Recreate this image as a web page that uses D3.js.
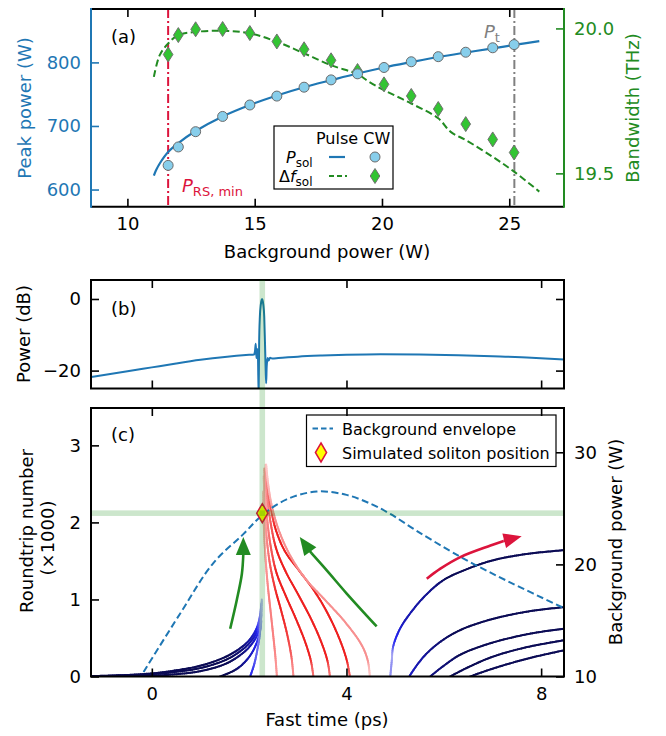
<!DOCTYPE html>
<html><head><meta charset="utf-8">
<script src="https://cdn.jsdelivr.net/npm/d3@7"></script>
<style>body{margin:0;background:#fff}svg{display:block}text{font-family:"DejaVu Sans",sans-serif}</style>
</head><body><svg id="chart" width="666" height="736"></svg>
<script>
// ---------------- DATA ----------------
// Panel (a): pulse CW measurements
const cwBackground = [11.6,12.0,12.68,13.74,14.81,15.87,16.94,18.0,19.04,20.08,21.15,22.21,23.29,24.35,25.19];
const cwPeakPower = [638,667,691,715,733,747,761,772.5,782,792,801,809,816,823,828];
const cwBandwidth = [19.910,19.977,19.997,19.998,19.984,19.955,19.928,19.890,19.853,19.807,19.767,19.722,19.670,19.617,19.572];
// Panel (a): pulse model curves
const fitBackground = [11.04,11.12,11.27,11.6,12.0,12.68,13.74,14.81,15.87,16.94,18.0,19.04,20.08,21.15,22.21,23.29,24.35,25.19,26.18];
const fitPeakPower = [622,630,641,659,673,692,715,733,748,761,772,782.5,792,800.5,808.5,815.5,822,827.5,833.5];
const bwBackground = [11.04,11.27,11.6,12.0,12.68,13.74,14.81,15.87,16.94,18.0,19.04,19.5,20.08,21.15,22.21,22.7,23.29,24.35,25.19,26.18];
const bwModel = [19.833,19.908,19.948,19.977,19.988,19.992,19.983,19.954,19.914,19.873,19.842,19.815,19.787,19.741,19.69,19.643,19.615,19.557,19.506,19.437];
const pRSmin = 11.6, pT = 25.2;
const aXTicks = [10,15,20,25], aYTicks = [600,700,800], aY2Ticks = [19.5,20.0];

// Panel (b): intracavity power profile (ps, dB)
const profileTime = [-1.25,-0.5,0,0.5,1.0,1.5,2.0,2.10,2.12,2.135,2.15,2.165,2.18,2.195,2.205,2.22,2.24,2.265,2.29,2.31,2.325,2.34,2.35,2.36,2.38,2.40,2.43,2.47,2.6,3.0,3.5,4.0,4.7,5.5,6.3,7.0,7.8,8.47];
const profilePower = [-21.8,-20.2,-19.1,-18.0,-17.0,-16.2,-15.6,-15.5,-14.6,-12.5,-16.5,-14,-15.5,-27,-12,-5,-1.5,0,-1.5,-5,-12,-20,-23.5,-19,-16.5,-17.2,-16.4,-16.6,-16.5,-16.1,-15.8,-15.6,-15.45,-15.5,-15.7,-16.0,-16.4,-16.9];
const bTicksX = [0,4,8], bTicksY = [-20,0];

// Panel (c)
const solitonTime = 2.27, solitonRT = 2.12;
const envTime = [-0.17,0.58,1.26,1.88,2.27,2.77,3.39,4.0,4.5,4.9,5.44,6.13,6.54,7.36,8.47];
const envPower = [10.4,15.6,20.1,22.7,24.4,25.8,26.5,26.2,25.4,24.5,23.0,21.2,20.2,18.4,16.1];
// trajectories: [fast time (ps), roundtrip (x1000)]
const trajLeft = [
  [[-1.25,0.005],[-0.5,0.02],[0,0.04],[0.5,0.08],[1.0,0.14],[1.5,0.25],[1.8,0.36],[2.0,0.47],[2.15,0.62],[2.22,0.78],[2.25,0.95]],
  [[-1.25,0.0],[0,0.03],[0.5,0.06],[1.0,0.11],[1.5,0.21],[1.8,0.32],[2.0,0.43],[2.15,0.57],[2.22,0.72],[2.25,0.88]],
  [[-0.3,0.0],[0.5,0.03],[1.0,0.07],[1.5,0.16],[1.8,0.27],[2.0,0.38],[2.15,0.52],[2.22,0.66],[2.25,0.8]],
  [[1.40,0.0],[1.7,0.08],[1.9,0.18],[2.05,0.3],[2.15,0.43],[2.22,0.58],[2.25,0.72]],
  [[2.02,0.0],[2.1,0.15],[2.17,0.35],[2.22,0.55],[2.25,0.8],[2.26,1.0]]
];
const trajRed = [
  [[2.57,0],[2.54,0.25],[2.50,0.5],[2.44,0.85],[2.38,1.2],[2.33,1.6],[2.30,2.0],[2.29,2.4]],
  [[2.91,0],[2.87,0.25],[2.78,0.55],[2.66,0.85],[2.53,1.15],[2.43,1.45],[2.36,1.8],[2.32,2.2],[2.30,2.6]],
  [[3.32,0],[3.27,0.2],[3.15,0.45],[2.96,0.75],[2.75,1.05],[2.56,1.35],[2.44,1.7],[2.37,2.05],[2.33,2.45],[2.31,2.7]],
  [[3.66,0],[3.61,0.2],[3.48,0.45],[3.27,0.75],[3.02,1.05],[2.76,1.35],[2.56,1.65],[2.44,2.0],[2.37,2.35],[2.33,2.7]],
  [[4.07,0],[4.01,0.2],[3.88,0.45],[3.63,0.8],[3.35,1.1],[3.02,1.38],[2.74,1.62],[2.55,1.9],[2.44,2.2],[2.37,2.5],[2.34,2.75]],
  [[4.48,0],[4.44,0.2],[4.32,0.4],[3.98,0.7],[3.55,1.0],[3.18,1.25],[2.86,1.55],[2.62,1.88],[2.47,2.2],[2.39,2.5],[2.35,2.75]]
];
const trajRight = [
  [[4.90,0],[4.93,0.2],[4.96,0.39],[5.10,0.62],[5.31,0.82],[5.62,1.05],[5.99,1.25],[6.5,1.40],[7.02,1.51],[7.7,1.59],[8.47,1.64]],
  [[5.29,0],[5.45,0.15],[5.65,0.30],[5.95,0.46],[6.33,0.60],[6.8,0.71],[7.36,0.80],[7.9,0.86],[8.47,0.90]],
  [[5.72,0],[6.0,0.14],[6.33,0.28],[6.8,0.40],[7.36,0.50],[7.9,0.57],[8.47,0.62]],
  [[6.13,0],[6.5,0.12],[7.02,0.26],[7.7,0.38],[8.47,0.47]],
  [[6.54,0],[6.9,0.08],[7.36,0.17],[7.9,0.26],[8.47,0.34]]
];
const redFade = [0,0,0,0,0,0.5];
// annotation arrows (ps, roundtrip x1000)
const arrowGreenLeft = [[1.61,0.62],[1.745,0.99],[1.85,1.33],[1.88,1.59]], tipGreenLeft = [1.88,1.81];
const arrowGreenMid = [[4.62,0.65],[4.0,1.08],[3.59,1.38],[3.28,1.60]], tipGreenMid = [3.04,1.81];
const arrowRed = [[5.65,1.27],[5.93,1.40],[6.34,1.55],[6.96,1.70],[7.23,1.76]], tipRed = [7.60,1.82];
const cTicksX = [0,4,8], cTicksY = [0,1,2,3], cTicksW = [10,20,30];

// ---------------- LAYOUT ----------------
const svg = d3.select('#chart');
const FONT = 'DejaVu Sans';
const PA = {l:91, r:564, t:9, b:206.7};
const PB = {l:91, r:564, t:280, b:388.5};
const PC = {l:91, r:564, t:408, b:676.5};
const BLUE = '#1f77b4', GREEN = '#228b22', CRIMSON = '#dc143c';

const xa = d3.scaleLinear().domain([8.57, 27.15]).range([PA.l, PA.r]);
const ya = d3.scaleLinear().domain([573, 884]).range([PA.b, PA.t]);
const ya2 = d3.scaleLinear().domain([19.385, 20.067]).range([PA.b, PA.t]);
const xt = d3.scaleLinear().domain([-1.25, 8.47]).range([PC.l, PC.r]);
const yb = d3.scaleLinear().domain([-25, 5.3]).range([PB.b, PB.t]);
const yc = d3.scaleLinear().domain([0, 3.485]).range([PC.b, PC.t]);
const yw = d3.scaleLinear().domain([10, 33.95]).range([PC.b, PC.t]);

const defs = svg.append('defs');
function clip(id, P){ defs.append('clipPath').attr('id', id).append('rect').attr('x',P.l).attr('y',P.t).attr('width',P.r-P.l).attr('height',P.b-P.t); }
clip('ca', PA); clip('cb', PB); clip('cc', PC);

function axis(gen, tr, color, labels){
  const g = svg.append('g').attr('transform', tr).call(gen);
  g.select('.domain').remove();
  g.selectAll('.tick line').attr('stroke', color).attr('stroke-width', 1.6);
  g.selectAll('.tick text').attr('fill', color).attr('font-size', 18).attr('font-family', FONT);
  if(!labels) g.selectAll('.tick text').remove();
  return g;
}
const TS = -8;

// ---------------- PANEL A ----------------
const ga = svg.append('g').attr('clip-path','url(#ca)');
ga.append('line').attr('x1',xa(pRSmin)).attr('x2',xa(pRSmin)).attr('y1',PA.t).attr('y2',PA.b)
  .attr('stroke',CRIMSON).attr('stroke-width',2).attr('stroke-dasharray','9,3,2,3');
ga.append('line').attr('x1',xa(pT)).attr('x2',xa(pT)).attr('y1',PA.t).attr('y2',PA.b)
  .attr('stroke','#808080').attr('stroke-width',2).attr('stroke-dasharray','9,3,2,3');
ga.append('path').attr('d', d3.line().x((d,i)=>xa(bwBackground[i])).y(d=>ya2(d)).curve(d3.curveCatmullRom)(bwModel))
  .attr('fill','none').attr('stroke',GREEN).attr('stroke-width',2).attr('stroke-dasharray','7,3.5');
ga.append('path').attr('d', d3.line().x((d,i)=>xa(fitBackground[i])).y(d=>ya(d)).curve(d3.curveCatmullRom)(fitPeakPower))
  .attr('fill','none').attr('stroke',BLUE).attr('stroke-width',2.2);
const diamondA = (cx,cy)=>`M${cx},${cy-7.5}L${cx+4.8},${cy}L${cx},${cy+7.5}L${cx-4.8},${cy}Z`;
ga.selectAll('.bw').data(cwBandwidth).enter().append('path')
  .attr('d',(d,i)=>diamondA(xa(cwBackground[i]), ya2(d))).attr('fill','#33c433').attr('stroke','#707070').attr('stroke-width',1);
ga.selectAll('.pp').data(cwPeakPower).enter().append('circle')
  .attr('cx',(d,i)=>xa(cwBackground[i])).attr('cy',d=>ya(d)).attr('r',5)
  .attr('fill','#87ceeb').attr('stroke','#6b6b6b').attr('stroke-width',1);
// annotations
const tRS = svg.append('text').attr('x',182).attr('y',192).attr('fill',CRIMSON).attr('font-size',18);
tRS.append('tspan').attr('font-style','italic').text('P');
tRS.append('tspan').attr('font-size',13).attr('dy',4).text('RS, min');
const tPt = svg.append('text').attr('x',484).attr('y',38).attr('fill','#808080').attr('font-size',18);
tPt.append('tspan').attr('font-style','italic').text('P');
tPt.append('tspan').attr('font-size',13).attr('dy',4).text('t');
svg.append('text').attr('x',111).attr('y',43).attr('font-size',18).text('(a)');
// legend a
svg.append('rect').attr('x',274).attr('y',126).attr('width',119).attr('height',63).attr('fill','#fff').attr('stroke','#000').attr('stroke-width',1.2);
svg.append('text').attr('x',316).attr('y',144).attr('font-size',16).text('Pulse CW');
const l1 = svg.append('text').attr('x',286).attr('y',163).attr('font-size',16);
l1.append('tspan').attr('font-style','italic').text('P');
l1.append('tspan').attr('font-size',12).attr('dy',4).text('sol');
const l2 = svg.append('text').attr('x',279).attr('y',182).attr('font-size',16);
l2.append('tspan').text('Δ');
l2.append('tspan').attr('font-style','italic').text('f');
l2.append('tspan').attr('font-size',12).attr('dy',4).text('sol');
svg.append('line').attr('x1',329).attr('x2',345).attr('y1',157).attr('y2',157).attr('stroke',BLUE).attr('stroke-width',2.2);
svg.append('line').attr('x1',329).attr('x2',347).attr('y1',176).attr('y2',176).attr('stroke',GREEN).attr('stroke-width',2).attr('stroke-dasharray','5,3');
svg.append('circle').attr('cx',375).attr('cy',157).attr('r',5).attr('fill','#87ceeb').attr('stroke','#6b6b6b');
svg.append('path').attr('d',diamondA(375,176)).attr('fill','#33c433').attr('stroke','#707070');
// axes a
axis(d3.axisBottom(xa).tickValues(aXTicks).tickSize(TS).tickPadding(11).tickFormat(d3.format('d')), `translate(0,${PA.b})`, '#000', true);
axis(d3.axisTop(xa).tickValues(aXTicks).tickSize(TS), `translate(0,${PA.t})`, '#000', false);
axis(d3.axisLeft(ya).tickValues(aYTicks).tickSize(TS).tickPadding(10).tickFormat(d3.format('d')), `translate(${PA.l},0)`, BLUE, true);
axis(d3.axisRight(ya2).tickValues(aY2Ticks).tickSize(TS).tickPadding(10).tickFormat(d3.format('.1f')), `translate(${PA.r},0)`, GREEN, true);
svg.append('line').attr('x1',PA.l).attr('x2',PA.r).attr('y1',PA.t).attr('y2',PA.t).attr('stroke','#000').attr('stroke-width',2);
svg.append('line').attr('x1',PA.l).attr('x2',PA.r).attr('y1',PA.b).attr('y2',PA.b).attr('stroke','#000').attr('stroke-width',2);
svg.append('line').attr('x1',PA.l).attr('x2',PA.l).attr('y1',PA.t-1).attr('y2',PA.b+1).attr('stroke',BLUE).attr('stroke-width',2);
svg.append('line').attr('x1',PA.r).attr('x2',PA.r).attr('y1',PA.t-1).attr('y2',PA.b+1).attr('stroke',GREEN).attr('stroke-width',2);
svg.append('text').attr('transform','translate(31,108) rotate(-90)').attr('text-anchor','middle').attr('font-size',18).attr('fill',BLUE).text('Peak power (W)');
svg.append('text').attr('transform','translate(639,108) rotate(-90)').attr('text-anchor','middle').attr('font-size',18).attr('fill',GREEN).text('Bandwidth (THz)');
svg.append('text').attr('x',327).attr('y',258).attr('text-anchor','middle').attr('font-size',18).text('Background power (W)');

// ---------------- PANEL B ----------------
const gb = svg.append('g').attr('clip-path','url(#cb)');
gb.append('path').attr('d', d3.line().x((d,i)=>xt(profileTime[i])).y(d=>yb(d)).curve(d3.curveMonotoneX)(profilePower))
  .attr('fill','none').attr('stroke',BLUE).attr('stroke-width',2).attr('stroke-linejoin','round');
svg.append('text').attr('x',111).attr('y',315).attr('font-size',18).text('(b)');
axis(d3.axisBottom(xt).tickValues(bTicksX).tickSize(TS), `translate(0,${PB.b})`, '#000', false);
axis(d3.axisTop(xt).tickValues(bTicksX).tickSize(TS), `translate(0,${PB.t})`, '#000', false);
axis(d3.axisLeft(yb).tickValues(bTicksY).tickSize(TS).tickPadding(10).tickFormat(d3.format('d')), `translate(${PB.l},0)`, '#000', true);
axis(d3.axisRight(yb).tickValues(bTicksY).tickSize(TS), `translate(${PB.r},0)`, '#000', false);
svg.append('rect').attr('x',PB.l).attr('y',PB.t).attr('width',PB.r-PB.l).attr('height',PB.b-PB.t).attr('fill','none').attr('stroke','#000').attr('stroke-width',2);
svg.append('text').attr('transform','translate(30,334) rotate(-90)').attr('text-anchor','middle').attr('font-size',18).text('Power (dB)');

// ---------------- PANEL C ----------------
const gc = svg.append('g').attr('clip-path','url(#cc)');
const trajLine = d3.line().x(d=>xt(d[0])).y(d=>yc(d[1])).curve(d3.curveCatmullRom);
const blueColor = d3.scaleLinear().domain([0,0.28,0.65]).range(['#c4c4f4','#2222ee','#0b0b55']).clamp(true);
const redColor = d3.scaleLinear().domain([0.02,0.22]).range(['#ffbcbc','#ee2020']).clamp(true);
function drawTraj(pts, cfn, fade){
  const tmp = gc.append('path').attr('d', trajLine(pts)).attr('fill','none');
  const node = tmp.node(), L = node.getTotalLength(), n = Math.max(2, Math.ceil(L/2));
  const P = d3.range(n+1).map(i=>node.getPointAtLength(L*i/n));
  tmp.remove();
  for(let i=0;i<n;i++){
    const dx = P[i+1].x-P[i].x, dy = P[i+1].y-P[i].y;
    const s = Math.abs(dx)/(Math.abs(dx)+Math.abs(dy)+1e-9);
    let c = cfn(s);
    if(fade) c = d3.interpolateRgb(c,'#ffffff')(fade);
    gc.append('line').attr('x1',P[i].x).attr('y1',P[i].y).attr('x2',P[i+1].x).attr('y2',P[i+1].y)
      .attr('stroke',c).attr('stroke-width',2).attr('stroke-linecap','round');
  }
}
trajLeft.forEach(t=>drawTraj(t, blueColor, 0));
trajRight.forEach(t=>drawTraj(t, blueColor, 0));
trajRed.forEach((t,i)=>drawTraj(t, redColor, redFade[i]));
// envelope
gc.append('path').attr('d', d3.line().x((d,i)=>xt(envTime[i])).y(d=>yw(d)).curve(d3.curveCatmullRom)(envPower))
  .attr('fill','none').attr('stroke',BLUE).attr('stroke-width',2).attr('stroke-dasharray','7,3.5');
// arrows
function arrow(pts, tip, color){
  const line = d3.line().x(d=>xt(d[0])).y(d=>yc(d[1])).curve(d3.curveCatmullRom);
  gc.append('path').attr('d', line(pts)).attr('fill','none').attr('stroke',color).attr('stroke-width',2.6);
  const b = pts[pts.length-1];
  const tx = xt(tip[0]), ty = yc(tip[1]), bx = xt(b[0]), by = yc(b[1]);
  const len = Math.hypot(tx-bx, ty-by), ux = (tx-bx)/len, uy = (ty-by)/len;
  const hl = 18, hw = 7.5;
  const cx = tx-ux*hl, cy = ty-uy*hl;
  gc.append('line').attr('x1',bx).attr('y1',by).attr('x2',cx+ux*2).attr('y2',cy+uy*2).attr('stroke',color).attr('stroke-width',2.6);
  gc.append('path').attr('d',`M${tx},${ty}L${cx-uy*hw},${cy+ux*hw}L${cx+uy*hw},${cy-ux*hw}Z`).attr('fill',color);
}
arrow(arrowGreenLeft, tipGreenLeft, GREEN);
arrow(arrowGreenMid, tipGreenMid, GREEN);
arrow(arrowRed, tipRed, CRIMSON);
// soliton marker
const diamondC = (cx,cy)=>`M${cx},${cy-9.5}L${cx+5.6},${cy}L${cx},${cy+9.5}L${cx-5.6},${cy}Z`;
gc.append('path').attr('d', diamondC(xt(solitonTime), yc(solitonRT))).attr('fill','#ffff00').attr('stroke',CRIMSON).attr('stroke-width',1.5);
// bands
svg.append('rect').attr('x',xt(solitonTime)-2.8).attr('y',PB.t).attr('width',5.6).attr('height',PC.b-PB.t).attr('fill','green').attr('opacity',0.2);
gc.append('rect').attr('x',PC.l).attr('y',yc(solitonRT)-2.8).attr('width',PC.r-PC.l).attr('height',5.6).attr('fill','green').attr('opacity',0.2);
// legend c
svg.append('rect').attr('x',306.5).attr('y',415).attr('width',249.5).attr('height',51.5).attr('fill','#fff').attr('stroke','#000').attr('stroke-width',1.2);
svg.append('line').attr('x1',312.5).attr('x2',333).attr('y1',428.5).attr('y2',428.5).attr('stroke',BLUE).attr('stroke-width',2).attr('stroke-dasharray','5.5,3');
svg.append('text').attr('x',342).attr('y',434.5).attr('font-size',16).text('Background envelope');
svg.append('path').attr('d', diamondC(321,452.5)).attr('fill','#ffff00').attr('stroke',CRIMSON).attr('stroke-width',1.5);
svg.append('text').attr('x',342).attr('y',458.5).attr('font-size',16).text('Simulated soliton position');
svg.append('text').attr('x',111).attr('y',441).attr('font-size',18).text('(c)');
// axes c
axis(d3.axisBottom(xt).tickValues(cTicksX).tickSize(TS).tickPadding(11).tickFormat(d3.format('d')), `translate(0,${PC.b})`, '#000', true);
axis(d3.axisTop(xt).tickValues(cTicksX).tickSize(TS), `translate(0,${PC.t})`, '#000', false);
axis(d3.axisLeft(yc).tickValues(cTicksY).tickSize(TS).tickPadding(10).tickFormat(d3.format('d')), `translate(${PC.l},0)`, '#000', true);
axis(d3.axisRight(yw).tickValues(cTicksW).tickSize(TS).tickPadding(10).tickFormat(d3.format('d')), `translate(${PC.r},0)`, '#000', true);
svg.append('rect').attr('x',PC.l).attr('y',PC.t).attr('width',PC.r-PC.l).attr('height',PC.b-PC.t).attr('fill','none').attr('stroke','#000').attr('stroke-width',2);
svg.append('text').attr('transform','translate(33,531) rotate(-90)').attr('text-anchor','middle').attr('font-size',18).text('Roundtrip number');
svg.append('text').attr('transform','translate(54,538) rotate(-90)').attr('text-anchor','middle').attr('font-size',18).text('(×1000)');
svg.append('text').attr('transform','translate(622,542) rotate(-90)').attr('text-anchor','middle').attr('font-size',18).text('Background power (W)');
svg.append('text').attr('x',327).attr('y',726).attr('text-anchor','middle').attr('font-size',18).text('Fast time (ps)');
</script></body></html>
